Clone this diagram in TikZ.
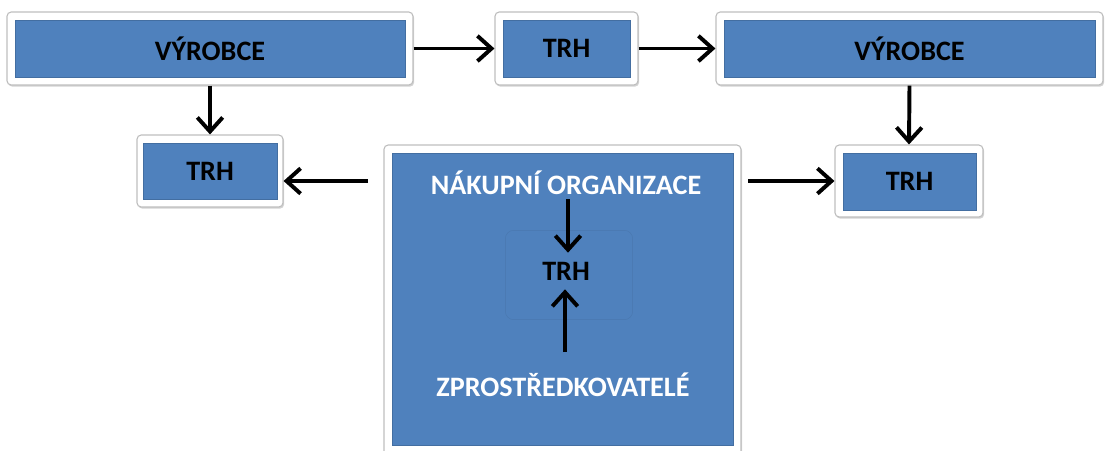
\documentclass[tikz,border=0pt]{standalone}
\usepackage{fontspec}
\setmainfont{Carlito}
\usetikzlibrary{arrows.meta,shadows,fit}
\definecolor{boxblue}{RGB}{79,129,189}

\begin{document}
\begin{tikzpicture}[
    x=0.025cm, y=-0.025cm,
    frame/.style={rectangle, rounded corners=3pt, draw=black!25, line width=0.8pt, fill=white, inner sep=0pt,
        drop shadow={shadow xshift=0.8pt, shadow yshift=-1.2pt, opacity=0.35}},
    panel/.style={rectangle, fill=boxblue, draw=boxblue!85!black, line width=0.3pt, inner sep=0pt},
    label/.style={font=\fontsize{20}{24}\selectfont\bfseries},
    arrow/.style={-{Straight Barb[length=10pt,width=18pt]}, line width=2.8pt},
]

\clip (0,0) rectangle (1109,450);

% Horni rada
\node[frame, fit={(7,12) (413,85)}] (vyr1) {};
\node[panel, fit={(15,20) (405,77)}] (vyr1in) {};
\node[label] at (vyr1in.center) {V\'YROBCE};

\node[frame, fit={(495,12) (638,85)}] (trh1) {};
\node[panel, fit={(503,20) (630,77)}] (trh1in) {};
\node[label] at (trh1in.center) {TRH};

\node[frame, fit={(716,12) (1103,85)}] (vyr2) {};
\node[panel, fit={(724,20) (1095,77)}] (vyr2in) {};
\node[label] at (vyr2in.center) {V\'YROBCE};

% Trhy vlevo a vpravo
\node[frame, fit={(137,135) (283,207)}] (trhL) {};
\node[panel, fit={(143,143) (277,199)}] (trhLin) {};
\node[label] at (trhLin.center) {TRH};

\node[frame, fit={(835,145) (983,217)}] (trhR) {};
\node[panel, fit={(843,153) (976,210)}] (trhRin) {};
\node[label] at (trhRin.center) {TRH};

% Nakupni organizace
\node[frame, fit={(384,145) (741,455)}] (big) {};
\node[panel, fit={(392,153) (733,445)}] (bigin) {};
\node[rectangle, rounded corners=6pt, draw=boxblue!92!black, line width=0.3pt, fit={(510,235) (628,315)}] (trhbox) {};

\node[label, white] (nakup) at (566,183) {N\'AKUPN\'I ORGANIZACE};
\node[label] (trhC) at (566,271) {TRH};
\node[label, white] (zpro) at (563,385) {ZPROST\v{R}EDKOVATEL\'E};

% Sipky
\draw[arrow] (vyr1.east) -- (trh1.west);
\draw[arrow] (trh1.east) -- (vyr2.west);
\draw[arrow] (vyr1.south) -- (trhL.north);
\draw[arrow] (vyr2.south) -- (trhR.north);

\coordinate (lstart) at (368,181);
\coordinate (rstart) at (748,181);
\draw[arrow] (lstart) -- (lstart -| trhL.east);
\draw[arrow] (rstart) -- (rstart -| trhR.west);

\coordinate (ndown) at (568,199);
\coordinate (zup) at (565,352);
\draw[arrow, shorten >=3pt] (ndown) -- (ndown |- trhC.north);
\draw[arrow, shorten >=3pt] (zup) -- (zup |- trhC.south);

\end{tikzpicture}
\end{document}
